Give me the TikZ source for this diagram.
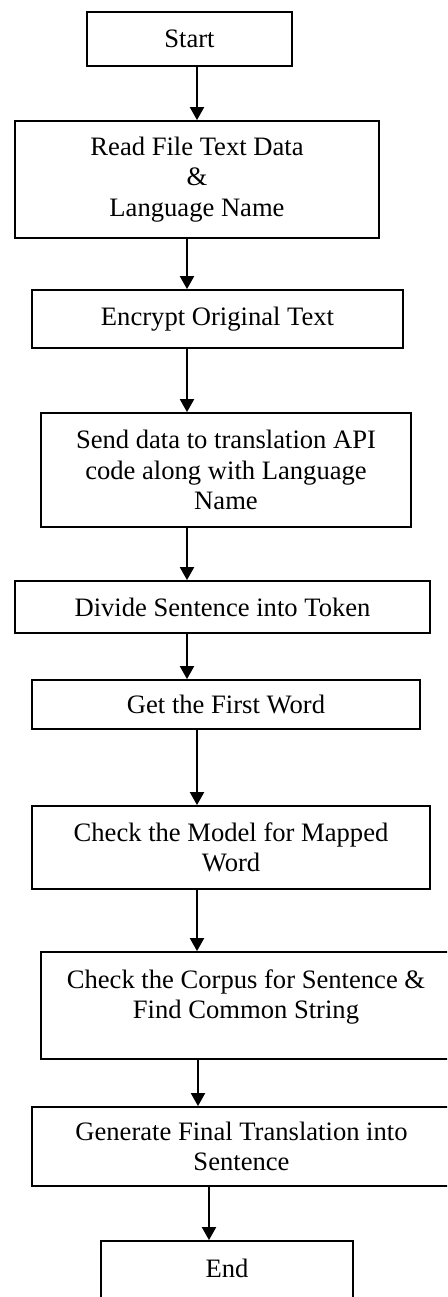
\documentclass[tikz,border=0pt]{standalone}
\usepackage{fontspec}
\setmainfont{Liberation Serif}
\usetikzlibrary{arrows.meta}
\begin{document}
\begin{tikzpicture}[x=0.5pt,y=-0.5pt,
  stepbox/.style={draw=black, line width=0.9pt, rectangle, inner sep=0pt,
    align=center, font=\fontsize{13.3pt}{15.25pt}\selectfont},
  flow/.style={draw=black, line width=1pt, -{Triangle[width=7pt,length=6.5pt]}}]
\useasboundingbox (0,0) rectangle (447,1297);
\fill[white] (0,0) rectangle (447,1297);
\clip (0,0) rectangle (447,1297);

% process steps
\node[stepbox, minimum width=102.5pt, minimum height=27pt] (start) at (189.5,39) {Start};
\node[stepbox, minimum width=182pt, minimum height=58.5pt] (read) at (197,179.5)
  {Read File Text Data\\\&\\Language Name};
\node[stepbox, minimum width=185.5pt, minimum height=29pt] (encrypt) at (217.5,319)
  {Encrypt Original Text};
\node[stepbox, minimum width=185pt, minimum height=57pt] (send) at (226,470)
  {Send data to translation API\\code along with Language\\Name};
\node[stepbox, minimum width=207.5pt, minimum height=26pt] (divide) at (222.5,607)
  {Divide Sentence into Token};
\node[stepbox, minimum width=194pt, minimum height=24.5pt] (get) at (226,704.5)
  {Get the First Word};
\node[stepbox, minimum width=199pt, minimum height=41.5pt] (model) at (231,847.5)
  {Check the Model for Mapped\\Word};
\node[stepbox, minimum width=205pt, minimum height=53.5pt] (corpus) at (246,1005.5)
  {\raisebox{4pt}[\height][\depth]{\renewcommand\arraystretch{1}%
   \begin{tabular}{@{}c@{}}Check the Corpus for Sentence \&\\Find Common String\end{tabular}}};
\node[stepbox, minimum width=209.5pt, minimum height=39.5pt] (generate) at (241.5,1146.5)
  {Generate Final Translation into\\Sentence};
\node[stepbox, minimum width=126pt, minimum height=34pt, text depth=7pt] (end) at (227,1275)
  {End};

% connectors
\draw[flow] (start.south -| 197,0) -- (read.north -| 197,0);
\draw[flow] (read.south -| 187,0) -- (encrypt.north -| 187,0);
\draw[flow] (encrypt.south -| 187,0) -- (send.north -| 187,0);
\draw[flow] (send.south -| 187,0) -- (divide.north -| 187,0);
\draw[flow] (divide.south -| 187,0) -- (get.north -| 187,0);
\draw[flow] (get.south -| 197,0) -- (model.north -| 197,0);
\draw[flow] (model.south -| 197,0) -- (corpus.north -| 197,0);
\draw[flow] (corpus.south -| 198,0) -- (generate.north -| 198,0);
\draw[flow] (generate.south -| 209,0) -- (end.north -| 209,0);
\end{tikzpicture}
\end{document}
